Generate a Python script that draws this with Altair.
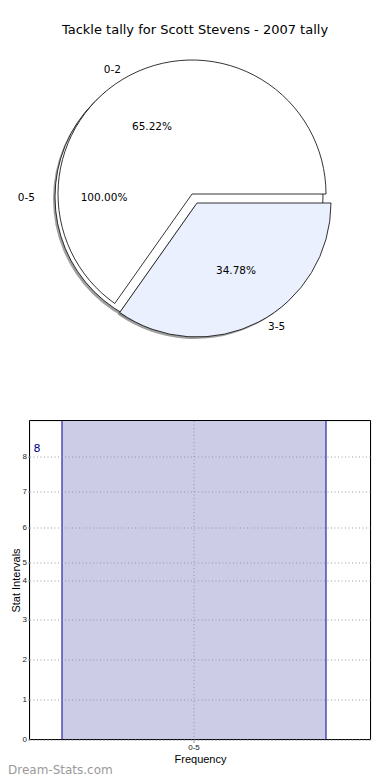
import json
import altair as alt
import pandas as pd

# ---------------- data ----------------
title_text = "Tackle tally for Scott Stevens - 2007 tally"
pie_cats = ["0-2", "3-5"]
pie_vals = [15, 8]
outer_cats = ["0-5"]
outer_vals = [8]
bar_cats = ["0-5"]
bar_vals = [8]
y_tick_values = [0, 1, 2, 3, 4, 4.44, 5.32, 6.22, 7.1]
y_tick_labels = ["0", "1", "2", "3", "4", "5", "6", "7", "8"]
watermark = ["Dream-Stats.com"]

FONT = "DejaVu Sans"
PL, PT = 29.5, 420.5          # plot-area top-left on the page
W, H = 341, 319
R = 134


def px(x):
    return x - PL


def py(y):
    return y - PT


pie_df = pd.DataFrame({"cat": pie_cats, "val": pie_vals, "order": list(range(len(pie_cats)))})
outer_df = pd.DataFrame({"cat": outer_cats, "val": outer_vals, "order": list(range(len(outer_cats)))})
bar_df = pd.DataFrame({"cat": bar_cats, "val": bar_vals})


def pie_base(df):
    return (
        alt.Chart(df)
        .transform_window(cum="sum(val)", sort=[alt.SortField("order")], frame=[None, 0])
        .transform_joinaggregate(total="sum(val)")
        .transform_calculate(
            t0="PI/2 + 2*PI - 2*PI*datum.cum/datum.total",
            t1="PI/2 + 2*PI - 2*PI*(datum.cum - datum.val)/datum.total",
            pct="format(datum.val/datum.total, '.2%')",
        )
    )


def arc(base, cat, cx, cy, fill, stroke=True, opacity=1.0):
    kw = dict(radius=R, fill=fill, opacity=opacity)
    if stroke:
        kw.update(stroke="black", strokeWidth=0.8)
    else:
        kw.update(strokeWidth=0)
    return (
        base.transform_filter(f"datum.cat == '{cat}'")
        .mark_arc(**kw)
        .encode(
            theta=alt.Theta("t0:Q", scale=None),
            theta2=alt.Theta2("t1:Q"),
            x=alt.value(px(cx)),
            y=alt.value(py(cy)),
        )
    )


def label(base, cat, field, x, y, align="center"):
    return (
        base.transform_filter(f"datum.cat == '{cat}'")
        .mark_text(font=FONT, fontSize=10.5, color="black", align=align, baseline="middle")
        .encode(text=alt.Text(f"{field}:N"), x=alt.value(px(x)), y=alt.value(py(y)))
    )


pb = pie_base(pie_df)
ob = pie_base(outer_df)

label_expr = f"{json.dumps(y_tick_labels)}[indexof({json.dumps(y_tick_values)}, datum.value)]"

grid_kw = dict(grid=True, gridDash=[1, 2.5], gridColor="#8f8f9f", gridOpacity=0.9, zindex=1)

bars = (
    alt.Chart(bar_df)
    .mark_bar(fill="#ccccE6", stroke="#000099", strokeWidth=1)
    .encode(
        x=alt.X(
            "cat:N",
            scale=alt.Scale(paddingInner=0, paddingOuter=0.1458, align=0.422),
            axis=alt.Axis(
                title="Frequency", labelAngle=0, labelFontSize=8, labelColor="#222",
                tickSize=3, tickColor="#999", domain=False,
                titleFontSize=11, titleFontWeight="normal", titleColor="black",
                titlePadding=2, bandPosition=0.5, labelPadding=1, **grid_kw,
            ),
        ),
        y=alt.Y(
            "val:Q",
            scale=alt.Scale(nice=False),
            axis=alt.Axis(
                values=y_tick_values, labelExpr=label_expr, title="Stat Intervals",
                titleFontSize=11, titleFontWeight="normal", titleColor="black",
                titlePadding=1, labelFontSize=8, labelColor="#222", tickSize=2,
                tickColor="#999", domain=False, labelPadding=1, **grid_kw,
            ),
        ),
    )
)

frame = (
    alt.Chart(bar_df)
    .mark_rect(fill="transparent", stroke="black", strokeWidth=1)
    .encode(x=alt.value(0), x2=alt.value(W), y=alt.value(0), y2=alt.value(H))
)

bar_label = (
    alt.Chart(bar_df)
    .mark_text(font=FONT, fontSize=11, color="#000080", align="center", baseline="middle")
    .encode(text=alt.Text("val:Q"), x=alt.value(px(37)), y=alt.value(py(449)))
)

title = (
    alt.Chart(pd.DataFrame({"t": [title_text]}))
    .mark_text(font=FONT, fontSize=13, color="black", align="center", baseline="middle")
    .encode(text="t:N", x=alt.value(px(195)), y=alt.value(py(30)))
)

wm = (
    alt.Chart(pd.DataFrame({"t": watermark}))
    .mark_text(font=FONT, fontSize=12, color="#9a9a9a", align="left", baseline="middle")
    .encode(text="t:N", x=alt.value(px(8)), y=alt.value(py(770)))
)

layers = [
    bars,
    frame,
    bar_label,
    title,
    # outer 0-5 pie with shadow
    arc(ob, "0-5", 187, 199, "#777", stroke=False, opacity=0.7),
    arc(ob, "0-5", 189, 197, "white"),
    # 0-2 slice
    arc(pb, "0-2", 192, 194, "white"),
    # 3-5 exploded slice with shadow
    arc(pb, "3-5", 195, 205, "#777", stroke=False, opacity=0.7),
    arc(pb, "3-5", 197, 203, "#eaf0fd"),
    label(pb, "0-2", "cat", 121, 70, "right"),
    label(pb, "0-2", "pct", 152, 127),
    label(ob, "0-5", "cat", 35, 198, "right"),
    label(ob, "0-5", "pct", 104, 198),
    label(pb, "3-5", "pct", 236, 271),
    label(pb, "3-5", "cat", 268, 327, "left"),
    wm,
]

chart = (
    alt.layer(*layers)
    .properties(
        width=W,
        height=H,
        autosize=alt.AutoSizeParams(type="none"),
        padding={"left": PL - 8, "top": PT - 8, "right": 390 - 8 - PL - W, "bottom": 780 - PT - H},
    )
    .configure_view(stroke="black", strokeWidth=1)
    .configure_axis(labelFont=FONT, titleFont=FONT)
    .configure(background="white")
)

chart.save("out.html", embed_options={"renderer": "svg", "actions": False})
